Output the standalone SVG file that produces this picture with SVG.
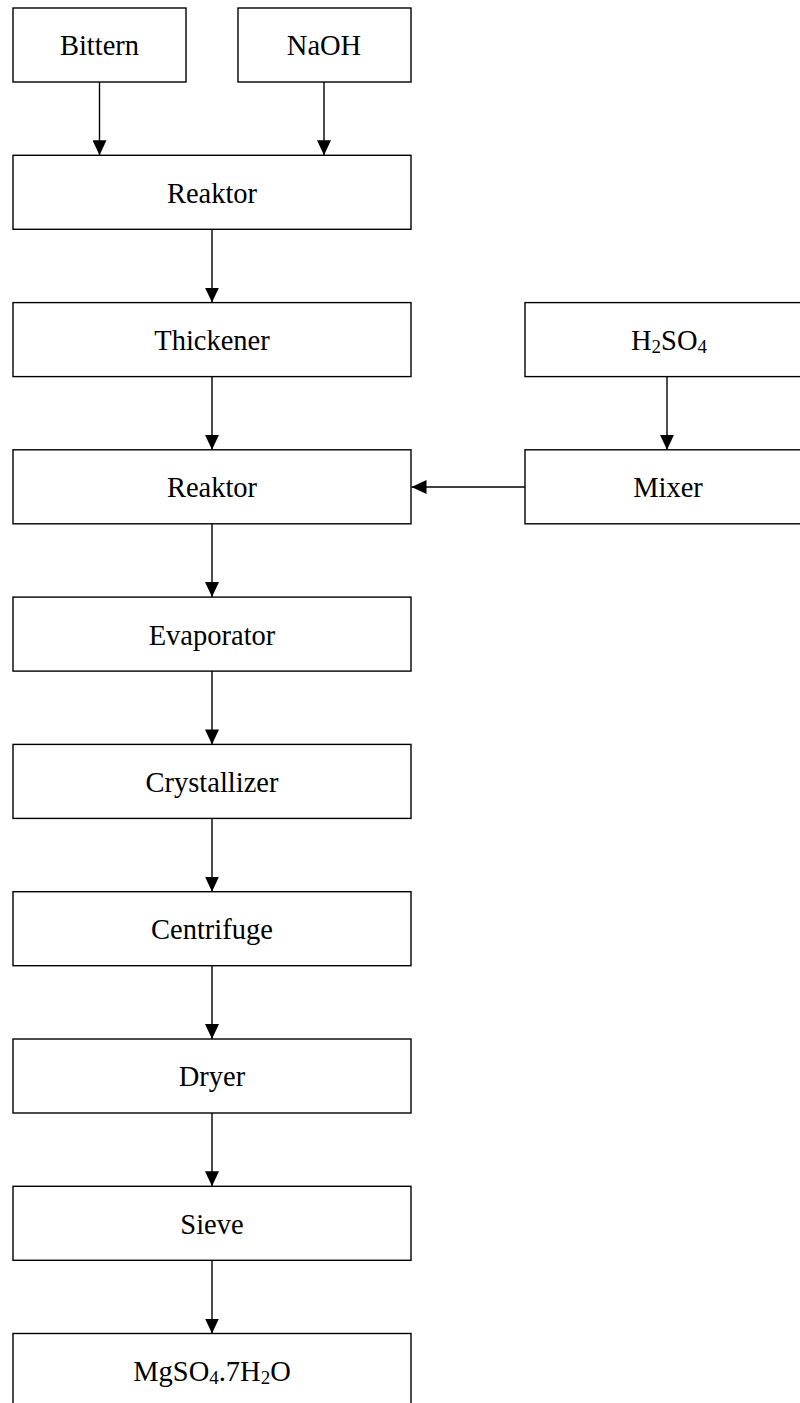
<svg xmlns="http://www.w3.org/2000/svg" width="800" height="1403" viewBox="0 0 800 1403">
<style>
.box{fill:#fff;stroke:#000;stroke-width:1.4}
.lbl{font-family:"Liberation Serif","Times New Roman",serif;font-size:28.5px;fill:#000;text-anchor:middle}
.sub{font-size:19px}
.conn{stroke:#000;stroke-width:1.4;fill:none;marker-end:url(#arr)}
</style>
<defs>
<marker id="arr" markerUnits="userSpaceOnUse" markerWidth="16" markerHeight="14" refX="15" refY="7" orient="auto">
<path d="M0,0 L15,7 L0,14 Z" fill="#000"/>
</marker>
</defs>
<rect width="800" height="1403" fill="#fff"/>
<g id="connectors">
<line class="conn" x1="99.5" y1="82" x2="99.5" y2="155.3"/>
<line class="conn" x1="324" y1="82" x2="324" y2="155.3"/>
<line class="conn" x1="212" y1="229.3" x2="212" y2="302.6"/>
<line class="conn" x1="212" y1="376.6" x2="212" y2="449.8"/>
<line class="conn" x1="667" y1="376.6" x2="667" y2="449.8"/>
<line class="conn" x1="525" y1="487" x2="411.5" y2="487"/>
<line class="conn" x1="212" y1="523.8" x2="212" y2="597.1"/>
<line class="conn" x1="212" y1="671.1" x2="212" y2="744.4"/>
<line class="conn" x1="212" y1="818.4" x2="212" y2="891.7"/>
<line class="conn" x1="212" y1="965.7" x2="212" y2="1039"/>
<line class="conn" x1="212" y1="1113" x2="212" y2="1186.3"/>
<line class="conn" x1="212" y1="1260.3" x2="212" y2="1333.5"/>
</g>
<g id="bittern"><rect class="box" x="13" y="8" width="173" height="74"/><text class="lbl" x="99.5" y="54.5">Bittern</text></g>
<g id="naoh"><rect class="box" x="238" y="8" width="173" height="74"/><text class="lbl" x="324" y="54.5">NaOH</text></g>
<g id="reaktor1"><rect class="box" x="13" y="155.3" width="398" height="74"/><text class="lbl" x="212" y="203">Reaktor</text></g>
<g id="thickener"><rect class="box" x="13" y="302.6" width="398" height="74"/><text class="lbl" x="212" y="350">Thickener</text></g>
<g id="h2so4"><rect class="box" x="525" y="302.6" width="290" height="74"/><text class="lbl" x="669" y="350">H<tspan class="sub" dy="3">2</tspan><tspan dy="-3">SO</tspan><tspan class="sub" dy="3">4</tspan></text></g>
<g id="reaktor2"><rect class="box" x="13" y="449.8" width="398" height="74"/><text class="lbl" x="212" y="497">Reaktor</text></g>
<g id="mixer"><rect class="box" x="525" y="449.8" width="290" height="74"/><text class="lbl" x="668" y="497">Mixer</text></g>
<g id="evaporator"><rect class="box" x="13" y="597.1" width="398" height="74"/><text class="lbl" x="212" y="644.5">Evaporator</text></g>
<g id="crystallizer"><rect class="box" x="13" y="744.4" width="398" height="74"/><text class="lbl" x="212" y="791.8">Crystallizer</text></g>
<g id="centrifuge"><rect class="box" x="13" y="891.7" width="398" height="74"/><text class="lbl" x="212" y="939">Centrifuge</text></g>
<g id="dryer"><rect class="box" x="13" y="1039" width="398" height="74"/><text class="lbl" x="212" y="1086.3">Dryer</text></g>
<g id="sieve"><rect class="box" x="13" y="1186.3" width="398" height="74"/><text class="lbl" x="212" y="1233.6">Sieve</text></g>
<g id="product"><rect class="box" x="13" y="1333.5" width="398" height="74"/><text class="lbl" x="212" y="1380.8">MgSO<tspan class="sub" dy="3">4</tspan><tspan dy="-3">.7H</tspan><tspan class="sub" dy="3">2</tspan><tspan dy="-3">O</tspan></text></g>
</svg>
